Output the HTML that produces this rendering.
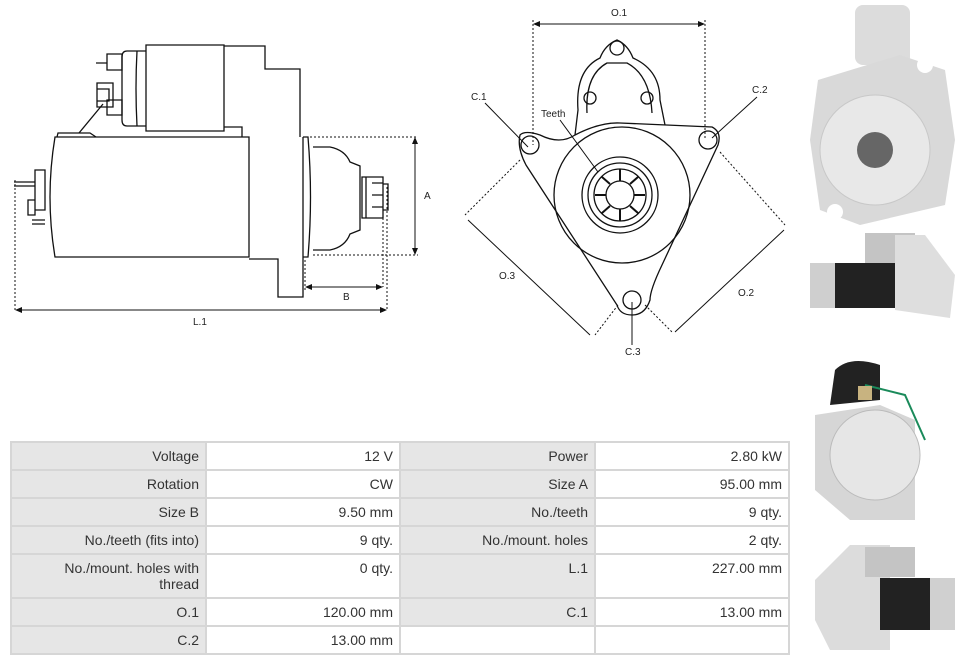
<!DOCTYPE html>
<html><head><meta charset="utf-8"><style>
body{margin:0;width:962px;height:664px;background:#fff;overflow:hidden;position:relative;font-family:"Liberation Sans",sans-serif}
svg{position:absolute;left:0;top:0}
table{position:absolute;left:10px;top:441px;border-collapse:collapse;font-size:14px;color:#333;table-layout:fixed;width:778px}
td{border:2px solid #d6d6d6;text-align:right;padding:0 6px 0 40px;height:28px;vertical-align:middle;box-sizing:border-box}
tr{height:28px}
td.l{background:#e6e6e6;width:195px}
td.v{background:#fff;width:194px}
tr.tall{height:44px}
tr.tall td{height:44px;vertical-align:top;padding-top:5px;line-height:16px}
</style></head><body>
<svg width="962" height="664" viewBox="0 0 962 664" fill="none" stroke="#111" stroke-width="1.3">
<path d="M55 137 L249 137 L249 257 L55 257 Q45 197 55 137Z"/>
<path d="M57 137 L58 133 L90 133 L96 137"/>
<path d="M79 133 L103 104"/>
<path d="M146 45 L224 45 L224 131 L146 131Z"/>
<path d="M146 51 L127 51 Q122 51 122 57 L122 120 Q122 126 127 126 L146 126"/>
<path d="M137 51 Q135 88 137 126"/>
<path d="M224 46 L265 46 L265 69 L300 69 L300 137"/>
<path d="M224 127 L242 127 L242 137"/>
<path d="M249 259 L278 259 L278 297 L303 297 L303 137"/>
<path d="M303 137 L308 137 Q313 197 308 257 L303 257"/>
<path d="M313 147 L330 147 Q345 150 350 162 L360 166 L360 230 L350 234 Q345 247 330 250 L313 250"/>
<path d="M362 177 L383 177 L383 218 L362 218Z M383 184 L388 184 L388 210 L383 210"/>
<path d="M366 177 L366 218 M372 183 L383 183 M372 195 L383 195 M372 207 L383 207"/>
<path d="M97 83 L113 83 L113 107 L97 107Z M97 89 L109 89 L109 101 L97 101"/>
<path d="M107 54 L122 54 L122 70 L107 70Z M96 63 L107 63"/>
<path d="M107 100 L122 100 L122 115 L107 115Z"/>
<path d="M35 170 L45 170 L45 210 L35 210Z M14 182 L35 182 M14 186 L35 186 M28 200 L35 200 L35 215 L28 215Z M32 220 L45 220 M32 224 L45 224"/>
<g stroke-dasharray="2 2" stroke-width="1">
<path d="M310 137 L418 137 M313 255 L418 255 M15 180 L15 310 M387 187 L387 310 M383 218 L383 287 M305 260 L305 290"/>
<path d="M533 20 L533 145 M705 20 L705 140"/>
<path d="M520 160 L465 215 M720 152 L785 225 M618 305 L595 335 M645 305 L672 332"/>
</g>
<g stroke-width="1">
<path d="M415 140 L415 252 M308 287 L381 287 M18 310 L384 310 M537 24 L701 24"/>
<path d="M468 220 L590 335 M675 332 L784 230"/>
<path d="M485 103 L528 147 M757 97 L712 138 M632 345 L632 302 M560 120 L598 172"/>
</g>
<g fill="#111" stroke="none">
<path d="M415 137 L412 144 L418 144Z M415 255 L412 248 L418 248Z M305 287 L312 284 L312 290Z M383 287 L376 284 L376 290Z M15 310 L22 307 L22 313Z M387 310 L380 307 L380 313Z M533 24 L540 21 L540 27Z M705 24 L698 21 L698 27Z"/>
</g>
<g fill="#222" stroke="none" font-size="10" font-family="Liberation Sans,sans-serif">
<text x="424" y="199">A</text><text x="343" y="300">B</text><text x="193" y="325">L.1</text>
<text x="611" y="16">O.1</text><text x="471" y="100">C.1</text><text x="752" y="93">C.2</text>
<text x="541" y="117">Teeth</text><text x="499" y="279">O.3</text><text x="738" y="296">O.2</text><text x="625" y="355">C.3</text>
</g>
<path d="M520 135 Q525 130 540 135 Q560 145 575 135 Q600 122 620 123 L712 127 Q722 132 718 145 L662 265 Q650 290 650 300 Q645 315 632 315 Q620 315 617 305 L526 165 Q517 148 520 135Z"/>
<path d="M575 135 L578 110 Q575 70 600 58 Q605 45 617 40 Q628 45 633 58 Q660 70 660 100 L665 125"/>
<path d="M587 113 Q585 75 607 63 L627 63 Q650 75 652 113"/>
<circle cx="617" cy="48" r="7"/><circle cx="590" cy="98" r="6"/><circle cx="647" cy="98" r="6"/>
<circle cx="530" cy="145" r="9"/><circle cx="708" cy="140" r="9"/><circle cx="632" cy="300" r="9"/>
<circle cx="622" cy="195" r="68"/><circle cx="620" cy="195" r="38"/><circle cx="620" cy="195" r="32"/><circle cx="620" cy="195" r="26"/><circle cx="620" cy="195" r="14"/>
<path d="M620 169 L620 181 M638 177 L630 184 M645 195 L634 195 M638 213 L630 206 M620 221 L620 209 M602 213 L610 206 M595 195 L606 195 M602 177 L610 184" stroke-width="2"/>
</svg>
<svg width="962" height="664" viewBox="0 0 962 664">
<rect x="855" y="5" width="55" height="60" rx="8" fill="#dcdcdc"/>
<path d="M818 80 L900 55 L945 70 L955 140 L945 205 L860 225 L820 210 L810 140Z" fill="#d9d9d9"/>
<circle cx="875" cy="150" r="55" fill="#e8e8e8" stroke="#c8c8c8"/>
<circle cx="875" cy="150" r="18" fill="#666"/>
<circle cx="925" cy="65" r="8" fill="#fff"/><circle cx="835" cy="212" r="8" fill="#fff"/>
<rect x="865" y="233" width="50" height="30" fill="#c4c4c4"/>
<rect x="810" y="263" width="85" height="45" fill="#222"/>
<rect x="810" y="263" width="25" height="45" fill="#cfcfcf"/>
<path d="M895 235 L925 235 L955 275 L950 318 L895 310Z" fill="#dedede"/>
<path d="M835 370 Q850 355 880 365 L880 400 L830 405Z" fill="#222"/>
<path d="M815 415 L880 405 L915 420 L915 520 L850 520 L815 490Z" fill="#d6d6d6"/>
<circle cx="875" cy="455" r="45" fill="#e6e6e6" stroke="#bbb"/>
<path d="M865 385 L905 395 L925 440" stroke="#1a8a5a" stroke-width="2" fill="none"/>
<rect x="858" y="386" width="14" height="14" fill="#c8b380"/>
<path d="M815 580 L850 545 L890 545 L890 650 L830 650 L815 620Z" fill="#dcdcdc"/>
<rect x="865" y="547" width="50" height="30" fill="#c4c4c4"/>
<rect x="880" y="578" width="60" height="52" fill="#222"/>
<rect x="930" y="578" width="25" height="52" fill="#d0d0d0"/>
</svg>
<table>
<tr><td class="l">Voltage</td><td class="v">12 V</td><td class="l">Power</td><td class="v">2.80 kW</td></tr>
<tr><td class="l">Rotation</td><td class="v">CW</td><td class="l">Size A</td><td class="v">95.00 mm</td></tr>
<tr><td class="l">Size B</td><td class="v">9.50 mm</td><td class="l">No./teeth</td><td class="v">9 qty.</td></tr>
<tr><td class="l">No./teeth (fits into)</td><td class="v">9 qty.</td><td class="l">No./mount. holes</td><td class="v">2 qty.</td></tr>
<tr class="tall"><td class="l">No./mount. holes with thread</td><td class="v">0 qty.</td><td class="l">L.1</td><td class="v">227.00 mm</td></tr>
<tr><td class="l">O.1</td><td class="v">120.00 mm</td><td class="l">C.1</td><td class="v">13.00 mm</td></tr>
<tr><td class="l">C.2</td><td class="v">13.00 mm</td><td class="v"></td><td class="v"></td></tr>
</table>
</body></html>
